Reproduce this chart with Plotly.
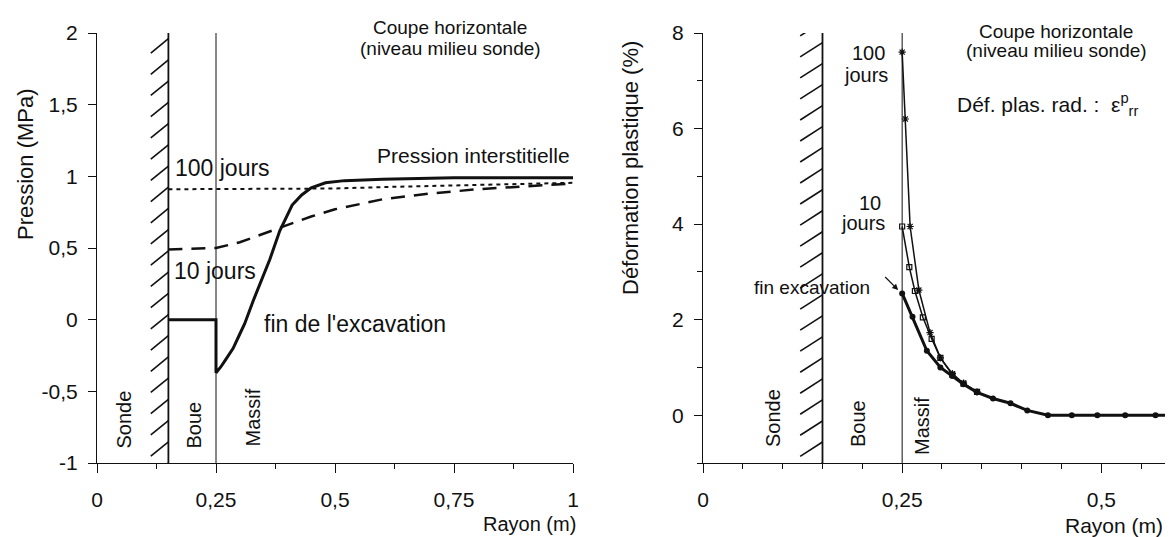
import plotly.graph_objects as go

# ---- left panel: pore pressure (MPa) vs radius (m) ----
FIN_X = [0.15, 0.25, 0.25, 0.26, 0.27, 0.286, 0.30, 0.31, 0.328, 0.345, 0.363, 0.384,
         0.41, 0.43, 0.45, 0.48, 0.52, 0.60, 0.75, 1.0]
FIN_Y = [0.0, 0.0, -0.37, -0.33, -0.28, -0.20, -0.10, -0.03, 0.13, 0.27, 0.42, 0.62,
         0.80, 0.87, 0.92, 0.955, 0.97, 0.98, 0.99, 0.99]
J10_X = [0.15, 0.25, 0.30, 0.35, 0.40, 0.45, 0.50, 0.60, 0.70, 0.80, 0.90, 1.0]
J10_Y = [0.49, 0.50, 0.54, 0.60, 0.66, 0.72, 0.77, 0.84, 0.88, 0.91, 0.93, 0.95]
J100_X = [0.15, 0.25, 0.40, 0.50, 0.60, 0.75, 0.90, 1.0]
J100_Y = [0.91, 0.91, 0.91, 0.915, 0.925, 0.935, 0.945, 0.955]

# ---- right panel: plastic strain (%) vs radius (m) ----
EF_X = [0.25, 0.263, 0.281, 0.298, 0.313, 0.327, 0.344, 0.364, 0.386, 0.407, 0.433,
        0.463, 0.495, 0.53, 0.568, 0.60]
EF_Y = [2.55, 2.06, 1.35, 1.0, 0.82, 0.65, 0.48, 0.35, 0.25, 0.10, 0.0,
        0.0, 0.0, 0.0, 0.0, 0.0]
E10_X = [0.25, 0.259, 0.266, 0.276, 0.287, 0.298, 0.313, 0.327, 0.344]
E10_Y = [3.95, 3.10, 2.60, 2.05, 1.60, 1.20, 0.85, 0.66, 0.49]
E100_X = [0.25, 0.254, 0.26, 0.271, 0.285, 0.298, 0.313, 0.327, 0.344]
E100_Y = [7.6, 6.2, 3.95, 2.62, 1.73, 1.20, 0.87, 0.67, 0.49]

# zone limits
SONDE_WALL = 0.15
MASSIF_EDGE = 0.25

W, H = 1173, 537
OFF = 8  # page body margin shifts the figure by 8px
FONT = "Liberation Sans, Arial, Helvetica, sans-serif"
INK = "#111111"


def px_x(px):
    return (px - OFF) / W


def px_y(py):
    return 1 - (py - OFF) / H


fig = go.Figure()


def hatch(xa, ya, x0, y0, y1, rise, step):
    # diagonal hatching of the probe wall, clipped by the axes
    xs, ys = [], []
    y = y0 - rise
    while y < y1:
        xs += [x0, SONDE_WALL, None]
        ys += [y, y + rise, None]
        y += step
    fig.add_trace(go.Scatter(x=xs, y=ys, xaxis=xa, yaxis=ya, mode="lines",
                             line=dict(color=INK, width=1.6), hoverinfo="skip",
                             showlegend=False))


hatch("x", "y", 0.113, -1, 2, 0.10, 0.148)
hatch("x2", "y2", 0.122, -1, 8, 0.30, 0.44)

fig.add_trace(go.Scatter(x=FIN_X, y=FIN_Y, mode="lines", line=dict(color=INK, width=3),
                         showlegend=False))
fig.add_trace(go.Scatter(x=J10_X, y=J10_Y, mode="lines",
                         line=dict(color=INK, width=2.5, dash="14px,9px"), showlegend=False))
fig.add_trace(go.Scatter(x=J100_X, y=J100_Y, mode="lines",
                         line=dict(color=INK, width=2, dash="4px,4px"), showlegend=False))

fig.add_trace(go.Scatter(x=E100_X, y=E100_Y, xaxis="x2", yaxis="y2", mode="lines+markers",
                         line=dict(color=INK, width=1.5),
                         marker=dict(symbol="asterisk-open", size=6, color=INK, line=dict(width=1.2, color=INK)),
                         showlegend=False))
fig.add_trace(go.Scatter(x=E10_X, y=E10_Y, xaxis="x2", yaxis="y2", mode="lines+markers",
                         line=dict(color=INK, width=1.5),
                         marker=dict(symbol="square-open", size=5, color=INK, line=dict(width=1.2, color=INK)),
                         showlegend=False))
fig.add_trace(go.Scatter(x=EF_X, y=EF_Y, xaxis="x2", yaxis="y2", mode="lines+markers",
                         line=dict(color=INK, width=3),
                         marker=dict(symbol="circle", size=6, color=INK), showlegend=False))

# zone boundaries
for xr, yr, top in (("x", "y", 2), ("x2", "y2", 8)):
    for xv, w in ((SONDE_WALL, 1.8), (MASSIF_EDGE, 1)):
        fig.add_shape(type="line", xref=xr, yref=yr, x0=xv, x1=xv, y0=-1, y1=top,
                      line=dict(color=INK, width=w))

axis_common = dict(showline=True, linecolor=INK, linewidth=1.2, ticks="outside",
                   tickcolor=INK, showgrid=False, zeroline=False, automargin=False,
                   tickfont=dict(size=21, color=INK, family=FONT))
y_dom = [px_y(463), px_y(33)]

fig.update_layout(
    width=W, height=H,
    margin=dict(l=0, r=0, t=0, b=0, pad=0),
    paper_bgcolor="white", plot_bgcolor="white",
    font=dict(family=FONT, color=INK),
    xaxis=dict(domain=[px_x(97), px_x(573)], range=[0, 1], anchor="y",
               tickvals=[0, 0.25, 0.5, 0.75, 1], ticktext=["0", "0,25", "0,5", "0,75", "1"],
               ticklen=9, ticklabelstandoff=9,
               minor=dict(dtick=0.125, tick0=0, ticks="outside", ticklen=5, tickcolor=INK),
               **axis_common),
    yaxis=dict(domain=y_dom, range=[-1, 2], anchor="x",
               tickvals=[-1, -0.5, 0, 0.5, 1, 1.5, 2],
               ticktext=["-1", "-0,5", "0", "0,5", "1", "1,5", "2"],
               ticklen=8, ticklabelstandoff=6, **axis_common),
    xaxis2=dict(domain=[px_x(703), px_x(1173)], range=[0, 0.59], anchor="y2",
                tickvals=[0, 0.25, 0.5], ticktext=["0", "0,25", "0,5"],
                ticklen=9, ticklabelstandoff=9,
                minor=dict(dtick=0.05, tick0=0, ticks="outside", ticklen=5, tickcolor=INK),
                **axis_common),
    yaxis2=dict(domain=y_dom, range=[-1, 8], anchor="x2",
                tickvals=[0, 2, 4, 6, 8], ticktext=["0", "2", "4", "6", "8"],
                ticklen=8, ticklabelstandoff=6,
                minor=dict(dtick=1, tick0=1, ticks="outside", ticklen=5, tickcolor=INK),
                **axis_common),
)


def note(text, px, py, size=20, xanchor="center", angle=0):
    fig.add_annotation(text=text, x=px_x(px), y=px_y(py), xref="paper", yref="paper",
                       showarrow=False, xanchor=xanchor, yanchor="middle", textangle=angle,
                       font=dict(size=size, color=INK, family=FONT))


# left panel labels
note("Coupe horizontale", 450, 27, size=19)
note("(niveau milieu sonde)", 450, 48, size=19)
note("Pression interstitielle", 473, 155, size=21)
note("100 jours", 173, 168, size=23, xanchor="left")
note("10 jours", 172, 271, size=23, xanchor="left")
note("fin de l'excavation", 262, 324, size=23, xanchor="left")
note("Sonde", 123.5, 420, size=20, angle=-90)
note("Boue", 193.5, 425, size=20, angle=-90)
note("Massif", 252.5, 418, size=20, angle=-90)
note("Pression (MPa)", 25, 164, size=22, angle=-90)
note("Rayon (m)", 578, 524, size=20, xanchor="right")

# right panel labels
note("Coupe horizontale", 1056, 31, size=19)
note("(niveau milieu sonde)", 1056, 51, size=19)
note("Déf. plas. rad. :  ε<sup>p</sup><sub>rr</sub>", 955, 104, size=21, xanchor="left")
note("100", 868, 53, size=20)
note("jours", 866, 75, size=20)
note("10", 870, 203, size=20)
note("jours", 863, 223, size=20)
note("fin excavation", 812, 287, size=19)
note("Sonde", 773, 418, size=20, angle=-90)
note("Boue", 858, 424, size=20, angle=-90)
note("Massif", 922, 426, size=20, angle=-90)
note("Déformation plastique (%)", 630, 168, size=22, angle=-90)
note("Rayon (m)", 1165, 525, size=21, xanchor="right")

fig.add_annotation(x=0.245, y=2.62, xref="x2", yref="y2", text=" ", showarrow=True,
                   ax=-16, ay=-16, arrowhead=2, arrowsize=1, arrowwidth=1.2, arrowcolor=INK)

fig.write_html("out.html")
